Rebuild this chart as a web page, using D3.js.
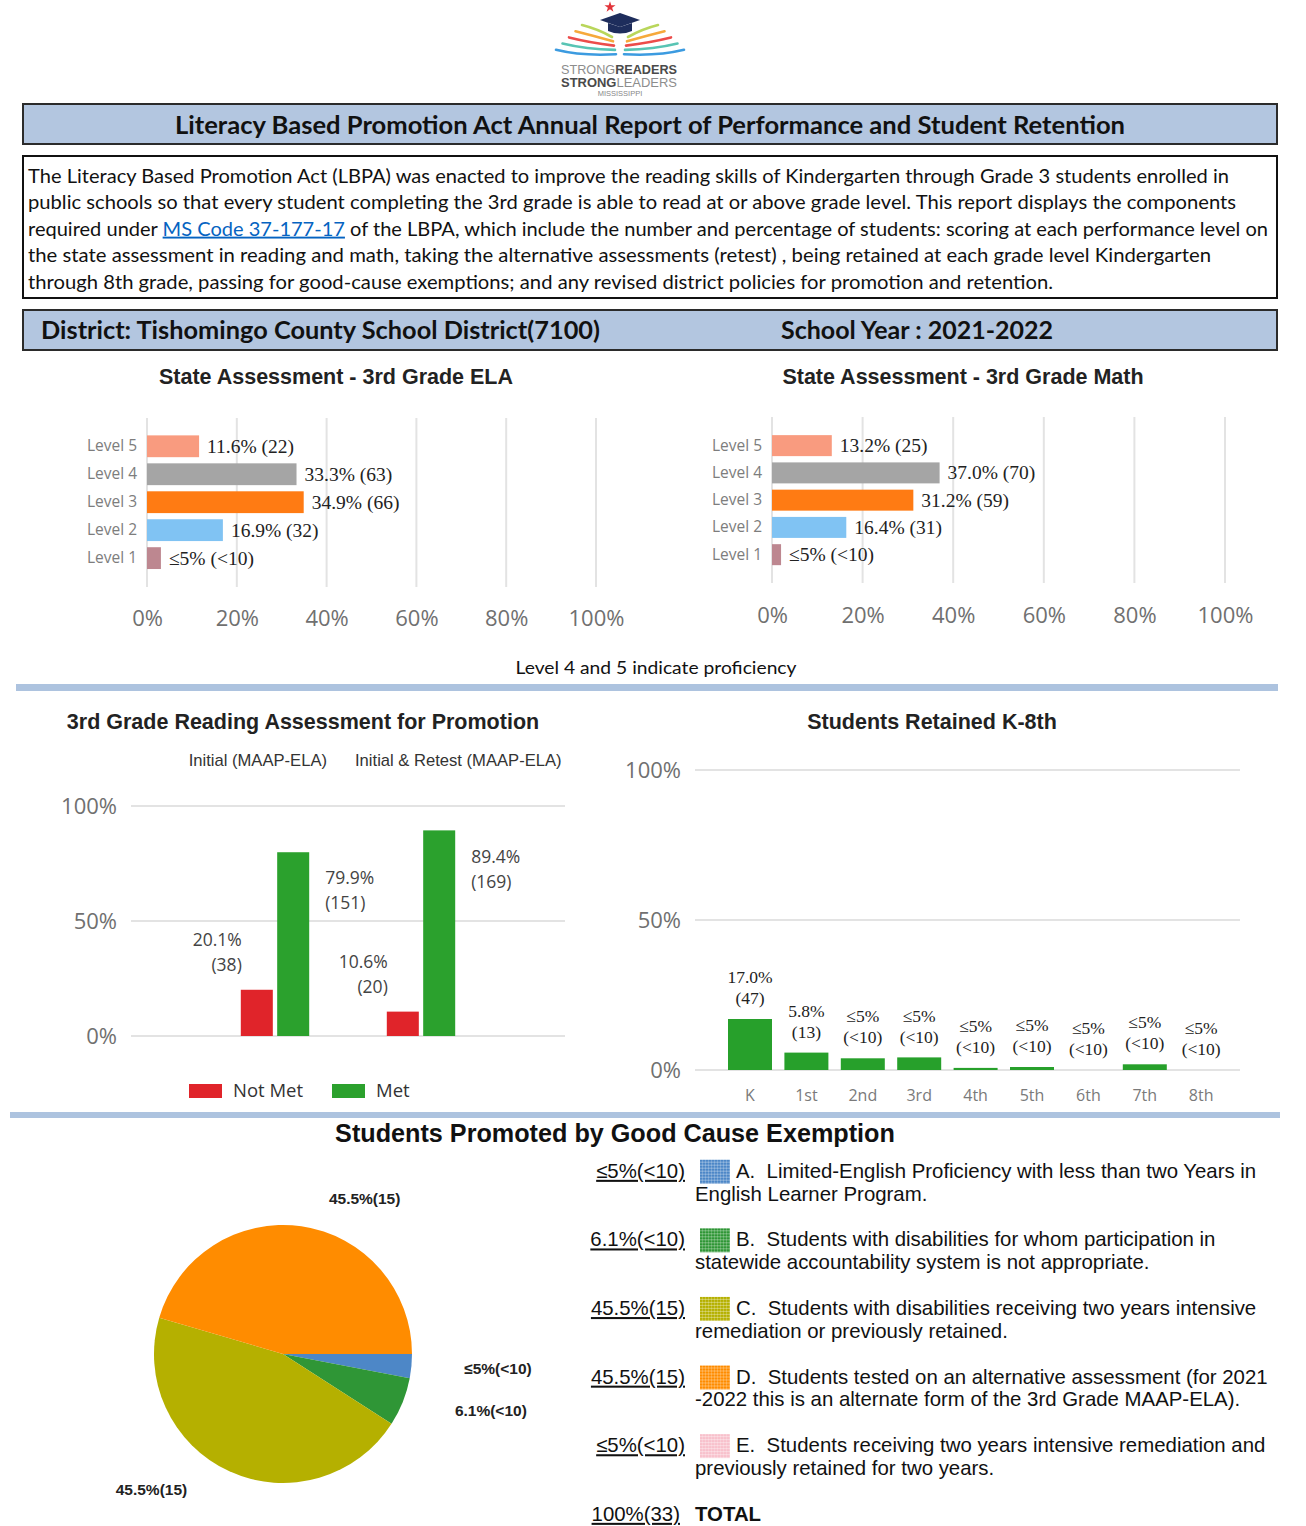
<!DOCTYPE html>
<html>
<head>
<meta charset="utf-8">
<script src="https://cdnjs.cloudflare.com/ajax/libs/d3/7.8.5/d3.min.js"></script>
<style>
  body { margin: 0; background: #fff; }
  svg { display: block; }
</style>
</head>
<body>
<svg id="page" width="1306" height="1526"></svg>
<script>
// ---------- data ----------
const levels = ['Level 5', 'Level 4', 'Level 3', 'Level 2', 'Level 1'];
const levelColors = ['#f99b7f', '#a5a5a5', '#ff7b13', '#80c3f3', '#bd8790'];
const elaPct = [11.6, 33.3, 34.9, 16.9, 3.1];
const elaText = ['11.6% (22)', '33.3% (63)', '34.9% (66)', '16.9% (32)', '≤5% (<10)'];
const mathPct = [13.2, 37.0, 31.2, 16.4, 2.0];
const mathText = ['13.2% (25)', '37.0% (70)', '31.2% (59)', '16.4% (31)', '≤5% (<10)'];
const pctTicks = [0, 20, 40, 60, 80, 100];

const promoGroups = ['Initial (MAAP-ELA)', 'Initial & Retest (MAAP-ELA)'];
const promoSeries = ['Not Met', 'Met'];
const promoColors = ['#e0242a', '#2ba12d'];
const notMetPct = [20.1, 10.6];
const notMetCount = ['(38)', '(20)'];
const metPct = [79.9, 89.4];
const metCount = ['(151)', '(169)'];
const halfTicks = [0, 50, 100];

const grades = ['K', '1st', '2nd', '3rd', '4th', '5th', '6th', '7th', '8th'];
const retainedPct = [17.0, 5.8, 3.9, 4.2, 0.7, 1.0, 0, 1.9, 0];
const retainedRate = ['17.0%', '5.8%', '≤5%', '≤5%', '≤5%', '≤5%', '≤5%', '≤5%', '≤5%'];
const retainedCount = ['(47)', '(13)', '(<10)', '(<10)', '(<10)', '(<10)', '(<10)', '(<10)', '(<10)'];

const exemptCodes = ['A', 'B', 'C', 'D', 'E'];
const exemptPct = [3.0, 6.1, 45.5, 45.5, 0];
const exemptLabel = ['≤5%(<10)', '6.1%(<10)', '45.5%(15)', '45.5%(15)', '≤5%(<10)'];
const exemptColors = ['#4d87c7', '#2f9636', '#b5b000', '#ff8c00', '#f8c1cc'];
const exemptDesc = [
  ['A.  Limited-English Proficiency with less than two Years in', 'English Learner Program.'],
  ['B.  Students with disabilities for whom participation in', 'statewide accountability system is not appropriate.'],
  ['C.  Students with disabilities receiving two years intensive', 'remediation or previously retained.'],
  ['D.  Students tested on an alternative assessment (for 2021', '-2022 this is an alternate form of the 3rd Grade MAAP-ELA).'],
  ['E.  Students receiving two years intensive remediation and', 'previously retained for two years.']
];
const exemptTotal = '100%(33)';

const introLines = [
  [{t: 'The Literacy Based Promotion Act (LBPA) was enacted to improve the reading skills of Kindergarten through Grade 3 students enrolled in'}],
  [{t: 'public schools so that every student completing the 3rd grade is able to read at or above grade level. This report displays the components'}],
  [{t: 'required under '}, {t: 'MS Code 37-177-17', link: true}, {t: ' of the LBPA, which include the number and percentage of students: scoring at each performance level on'}],
  [{t: 'the state assessment in reading and math, taking the alternative assessments (retest) , being retained at each grade level Kindergarten'}],
  [{t: 'through 8th grade, passing for good-cause exemptions; and any revised district policies for promotion and retention.'}]
];

// ---------- setup ----------
const svg = d3.select('#page');
const sans = "'Liberation Sans', Arial, sans-serif";
const segoe = "'Open Sans', 'Noto Sans', sans-serif";
const serif = "'Liberation Serif', 'Times New Roman', serif";
const calibri = "Lato, 'Open Sans', sans-serif";
const bannerFill = '#b3c6e0';

// ---------- logo ----------
const logo = svg.append('g');
const pageColors = ['#b9d65b', '#f6a93b', '#ec4c4a', '#58c4b4', '#3c9be0'];
[1, -1].forEach(side => {
  logo.append('g').selectAll('path')
    .data(pageColors)
    .join('path')
    .attr('d', (c, i) => {
      const sx = 620 - side * (38 + i * 6.5), sy = 25 + i * 6.2;
      const ex = 620 - side * (8 - i * 1), ey = 37 + i * 4.3;
      const cx = 620 - side * (22 + i * 4), cy = sy + 4 + i * 0.6;
      return `M${sx},${sy} Q${cx},${cy} ${ex},${ey}`;
    })
    .attr('fill', 'none')
    .attr('stroke', c => c)
    .attr('stroke-width', 2.6)
    .attr('stroke-linecap', 'round');
});
logo.append('path').attr('d', 'M600,20 L620,13 L640,20 L620,27 Z').attr('fill', '#1e2d5c');
logo.append('path').attr('d', 'M608,23 L608,31 Q620,36 632,31 L632,23 L620,27 Z').attr('fill', '#1e2d5c');
logo.append('path').attr('d', d3.symbol(d3.symbolStar).size(38)()).attr('transform', 'translate(610,7)').attr('fill', '#e2343a');
const l1 = logo.append('text').attr('x', 561).attr('y', 74).attr('font-family', sans).attr('font-size', 13.5)
  .attr('textLength', 116).attr('lengthAdjust', 'spacingAndGlyphs');
l1.append('tspan').attr('fill', '#8d8d8d').text('STRONG');
l1.append('tspan').attr('fill', '#4a4a4a').attr('font-weight', 700).text('READERS');
const l2 = logo.append('text').attr('x', 561).attr('y', 87).attr('font-family', sans).attr('font-size', 13.5)
  .attr('textLength', 116).attr('lengthAdjust', 'spacingAndGlyphs');
l2.append('tspan').attr('fill', '#4a4a4a').attr('font-weight', 700).text('STRONG');
l2.append('tspan').attr('fill', '#8d8d8d').text('LEADERS');
logo.append('text').attr('x', 620).attr('y', 96).attr('text-anchor', 'middle').attr('font-family', sans)
  .attr('font-size', 7.5).attr('fill', '#888').text('MISSISSIPPI');

// ---------- header boxes ----------
svg.append('rect').attr('x', 23).attr('y', 104).attr('width', 1254).attr('height', 40)
  .attr('fill', bannerFill).attr('stroke', '#2b2b2b').attr('stroke-width', 2);
svg.append('text').attr('x', 650).attr('y', 126).attr('dy', '0.35em').attr('text-anchor', 'middle')
  .attr('font-family', calibri).attr('font-weight', 700).attr('font-size', 24).attr('fill', '#111')
  .attr('textLength', 950).attr('lengthAdjust', 'spacingAndGlyphs')
  .text('Literacy Based Promotion Act Annual Report of Performance and Student Retention');

svg.append('rect').attr('x', 23).attr('y', 156).attr('width', 1254).attr('height', 142)
  .attr('fill', '#fff').attr('stroke', '#111').attr('stroke-width', 2);
const introWidths = [1201, 1208, 1240, 1183, 1025];
introLines.forEach((segs, i) => {
  const t = svg.append('text').attr('x', 28).attr('y', 176 + i * 26.5).attr('dy', '0.35em')
    .attr('font-family', calibri).attr('font-size', 19).attr('fill', '#111')
    .attr('textLength', introWidths[i]).attr('lengthAdjust', 'spacingAndGlyphs')
    .style('white-space', 'pre');
  segs.forEach(s => {
    const sp = t.append('tspan').text(s.t);
    if (s.link) sp.attr('fill', '#0563c1').attr('text-decoration', 'underline');
  });
});

svg.append('rect').attr('x', 23).attr('y', 310).attr('width', 1254).attr('height', 40)
  .attr('fill', bannerFill).attr('stroke', '#2b2b2b').attr('stroke-width', 2);
svg.append('text').attr('x', 41).attr('y', 331).attr('dy', '0.35em')
  .attr('font-family', calibri).attr('font-weight', 700).attr('font-size', 24).attr('fill', '#111')
  .attr('textLength', 559).attr('lengthAdjust', 'spacingAndGlyphs')
  .text('District: Tishomingo County School District(7100)');
svg.append('text').attr('x', 781).attr('y', 331).attr('dy', '0.35em')
  .attr('font-family', calibri).attr('font-weight', 700).attr('font-size', 24).attr('fill', '#111')
  .attr('textLength', 272).attr('lengthAdjust', 'spacingAndGlyphs')
  .text('School Year : 2021-2022');

// ---------- level charts ----------
function levelChart(cfg) {
  const g = svg.append('g');
  const x = d3.scaleLinear().domain([0, 100]).range([cfg.x0, cfg.x1]);
  const y = d3.scaleBand().domain(levels).range([cfg.yTop, cfg.yBot])
    .paddingInner(cfg.pad).paddingOuter(cfg.pad / 2);

  g.append('text').attr('x', cfg.titleX).attr('y', 376).attr('dy', '0.35em').attr('text-anchor', 'middle')
    .attr('font-family', sans).attr('font-weight', 700).attr('font-size', 21.5).attr('fill', '#222')
    .text(cfg.title);

  g.append('g').selectAll('line')
    .data(pctTicks)
    .join('line')
    .attr('x1', d => x(d)).attr('x2', d => x(d))
    .attr('y1', cfg.gTop).attr('y2', cfg.gBot)
    .attr('stroke', '#e3e3e3').attr('stroke-width', 2);

  const ax = g.append('g').attr('transform', `translate(0,${cfg.tickY})`)
    .call(d3.axisBottom(x).tickValues(pctTicks).tickFormat(d => d + '%').tickSize(0).tickPadding(0));
  ax.select('.domain').remove();
  ax.selectAll('text').attr('y', 0).attr('dy', '0.35em')
    .attr('font-family', segoe).attr('font-size', 22).attr('fill', '#707070');

  const ay = g.append('g').attr('transform', `translate(${cfg.x0 - 10},0)`)
    .call(d3.axisLeft(y).tickSize(0).tickPadding(0));
  ay.select('.domain').remove();
  ay.selectAll('text').attr('font-family', segoe).attr('font-size', 15.5).attr('fill', '#7d7d7d');

  g.append('g').selectAll('rect')
    .data(cfg.values)
    .join('rect')
    .attr('x', x(0))
    .attr('y', (d, i) => y(levels[i]))
    .attr('width', d => x(d) - x(0))
    .attr('height', y.bandwidth())
    .attr('fill', (d, i) => levelColors[i]);

  g.append('g').selectAll('text')
    .data(cfg.values)
    .join('text')
    .attr('x', d => x(d) + 8)
    .attr('y', (d, i) => y(levels[i]) + y.bandwidth() / 2)
    .attr('dy', '0.33em')
    .attr('font-family', serif).attr('font-size', 19.5).attr('fill', '#222')
    .text((d, i) => cfg.labels[i]);
}

levelChart({title: 'State Assessment - 3rd Grade ELA', titleX: 336, x0: 147, x1: 596,
  yTop: 432.3, yBot: 572.1, pad: 0.22, gTop: 418, gBot: 587, tickY: 618,
  values: elaPct, labels: elaText});
levelChart({title: 'State Assessment - 3rd Grade Math', titleX: 963, x0: 772, x1: 1225,
  yTop: 432, yBot: 568.3, pad: 0.23, gTop: 417, gBot: 583, tickY: 615,
  values: mathPct, labels: mathText});

svg.append('text').attr('x', 656).attr('y', 668).attr('dy', '0.35em').attr('text-anchor', 'middle')
  .attr('font-family', calibri).attr('font-size', 18).attr('fill', '#111')
  .attr('textLength', 281).attr('lengthAdjust', 'spacingAndGlyphs')
  .text('Level 4 and 5 indicate proficiency');

svg.append('rect').attr('x', 16).attr('y', 684).attr('width', 1262).attr('height', 7).attr('fill', '#adc3df');

// ---------- promotion chart ----------
const promo = svg.append('g');
const py = d3.scaleLinear().domain([0, 100]).range([1036, 806]);
const px = d3.scaleBand().domain(promoGroups).range([202, 494]);
const ps = d3.scaleBand().domain(promoSeries).range([-34.2, 34.2]).paddingInner(0.12);

promo.append('text').attr('x', 303).attr('y', 721).attr('dy', '0.35em').attr('text-anchor', 'middle')
  .attr('font-family', sans).attr('font-weight', 700).attr('font-size', 21.5).attr('fill', '#222')
  .text('3rd Grade Reading Assessment for Promotion');
promo.append('g').selectAll('text')
  .data(promoGroups)
  .join('text')
  .attr('x', (d, i) => i === 0 ? 327 : 355)
  .attr('y', 760).attr('dy', '0.35em')
  .attr('text-anchor', (d, i) => i === 0 ? 'end' : 'start')
  .attr('font-family', sans).attr('font-size', 16.6).attr('fill', '#333')
  .text(d => d);

promo.append('g').selectAll('line')
  .data(halfTicks)
  .join('line')
  .attr('x1', 131).attr('x2', 565)
  .attr('y1', d => py(d)).attr('y2', d => py(d))
  .attr('stroke', '#e3e3e3').attr('stroke-width', 2);
const pay = promo.append('g').attr('transform', 'translate(117,0)')
  .call(d3.axisLeft(py).tickValues(halfTicks).tickFormat(d => d + '%').tickSize(0).tickPadding(0));
pay.select('.domain').remove();
pay.selectAll('text').attr('font-family', segoe).attr('font-size', 22).attr('fill', '#707070');

const promoRows = promoGroups.map((grp, i) => [
  {grp, s: 'Not Met', v: notMetPct[i], lines: [notMetPct[i].toFixed(1) + '%', notMetCount[i]]},
  {grp, s: 'Met', v: metPct[i], lines: [metPct[i].toFixed(1) + '%', metCount[i]]}
]).flat();
const barX = d => px(d.grp) + px.bandwidth() / 2 + ps(d.s);

promo.append('g').selectAll('rect')
  .data(promoRows)
  .join('rect')
  .attr('x', barX)
  .attr('y', d => py(d.v))
  .attr('width', ps.bandwidth())
  .attr('height', d => py(0) - py(d.v))
  .attr('fill', d => promoColors[promoSeries.indexOf(d.s)]);

promo.append('g').selectAll('text')
  .data(promoRows)
  .join('text')
  .attr('text-anchor', d => d.s === 'Met' ? 'start' : 'end')
  .attr('x', d => d.s === 'Met' ? barX(d) + ps.bandwidth() + 16 : barX(d) + 1)
  .attr('y', d => d.s === 'Met' ? py(d.v) + 26 : py(d.v) - 50)
  .attr('font-family', segoe).attr('font-size', 17.5).attr('fill', '#444')
  .each(function (d) {
    d3.select(this).selectAll('tspan')
      .data(d.lines)
      .join('tspan')
      .attr('x', d3.select(this).attr('x'))
      .attr('dy', (l, j) => j === 0 ? '0.35em' : 25)
      .text(l => l);
  });

const pLeg = promo.append('g').selectAll('g')
  .data(promoSeries)
  .join('g')
  .attr('transform', (d, i) => `translate(${189 + i * 143},1091)`);
pLeg.append('rect').attr('x', 0).attr('y', -7).attr('width', 33).attr('height', 14)
  .attr('fill', (d, i) => promoColors[i]);
pLeg.append('text').attr('x', 44).attr('dy', '0.35em')
  .attr('font-family', segoe).attr('font-size', 18.5).attr('fill', '#333').text(d => d);

// ---------- retained chart ----------
const ret = svg.append('g');
const ry = d3.scaleLinear().domain([0, 100]).range([1070, 770]);
const rx = d3.scaleBand().domain(grades).range([721.8, 1229.4]).paddingInner(0.22).paddingOuter(0.11);

ret.append('text').attr('x', 932).attr('y', 721).attr('dy', '0.35em').attr('text-anchor', 'middle')
  .attr('font-family', sans).attr('font-weight', 700).attr('font-size', 21.5).attr('fill', '#222')
  .text('Students Retained K-8th');
ret.append('g').selectAll('line')
  .data(halfTicks)
  .join('line')
  .attr('x1', 695).attr('x2', 1240)
  .attr('y1', d => ry(d)).attr('y2', d => ry(d))
  .attr('stroke', '#e3e3e3').attr('stroke-width', 2);
const ray = ret.append('g').attr('transform', 'translate(681,0)')
  .call(d3.axisLeft(ry).tickValues(halfTicks).tickFormat(d => d + '%').tickSize(0).tickPadding(0));
ray.select('.domain').remove();
ray.selectAll('text').attr('font-family', segoe).attr('font-size', 22).attr('fill', '#707070');

const rax = ret.append('g').attr('transform', 'translate(0,1095)')
  .call(d3.axisBottom(rx).tickSize(0).tickPadding(0));
rax.select('.domain').remove();
rax.selectAll('text').attr('y', 0).attr('dy', '0.35em')
  .attr('font-family', segoe).attr('font-size', 16).attr('fill', '#7a7a7a');

ret.append('g').selectAll('rect')
  .data(retainedPct)
  .join('rect')
  .attr('x', (d, i) => rx(grades[i]))
  .attr('y', d => ry(d))
  .attr('width', rx.bandwidth())
  .attr('height', d => ry(0) - ry(d))
  .attr('fill', '#27a02b');

ret.append('g').selectAll('text')
  .data(retainedPct)
  .join('text')
  .attr('x', (d, i) => rx(grades[i]) + rx.bandwidth() / 2)
  .attr('y', d => ry(d) - 42)
  .attr('text-anchor', 'middle')
  .attr('font-family', serif).attr('font-size', 17.5).attr('fill', '#222')
  .each(function (d, i) {
    const cx = d3.select(this).attr('x');
    d3.select(this).selectAll('tspan')
      .data([retainedRate[i], retainedCount[i]])
      .join('tspan')
      .attr('x', cx)
      .attr('dy', (l, j) => j === 0 ? '0.35em' : 21)
      .text(l => l);
  });

svg.append('rect').attr('x', 10).attr('y', 1112).attr('width', 1270).attr('height', 6).attr('fill', '#adc3df');

// ---------- good cause exemption ----------
svg.append('text').attr('x', 615).attr('y', 1133).attr('dy', '0.35em').attr('text-anchor', 'middle')
  .attr('font-family', sans).attr('font-weight', 700).attr('font-size', 25.2).attr('fill', '#111')
  .text('Students Promoted by Good Cause Exemption');

const pieR = 129;
const pieG = svg.append('g').attr('transform', 'translate(283,1354)');
const pie = d3.pie().sort(null).value(d => d)
  .startAngle(Math.PI / 2).endAngle(Math.PI / 2 + 2 * Math.PI);
const slices = pie(exemptPct);
const arc = d3.arc().innerRadius(0).outerRadius(pieR);
pieG.selectAll('path')
  .data(slices)
  .join('path')
  .attr('d', arc)
  .attr('fill', (d, i) => exemptColors[i]);

// outside labels: big slices turned a bit clockwise, small ones squeezed toward 3 o'clock
const labelPos = d => {
  const mid = (d.startAngle + d.endAngle) / 2;
  let a, r;
  if (d.data > 20) {
    a = mid + 19.5 * Math.PI / 180;
    r = pieR * (1.42 - 0.065 * Math.cos(a));
  } else {
    a = Math.PI / 2 + (mid - Math.PI / 2) * 0.7;
    r = pieR * 1.67;
  }
  return [Math.sin(a) * r, -Math.cos(a) * r];
};
pieG.selectAll('text')
  .data(slices.filter(d => d.data > 0))
  .join('text')
  .attr('x', d => labelPos(d)[0])
  .attr('y', d => labelPos(d)[1])
  .attr('dy', '0.35em')
  .attr('text-anchor', 'middle')
  .attr('font-family', sans).attr('font-weight', 700).attr('font-size', 15.5).attr('fill', '#222')
  .text(d => exemptLabel[d.index]);

// legend swatch patterns
const defs = svg.append('defs');
exemptColors.forEach((c, i) => {
  const p = defs.append('pattern').attr('id', 'sw' + i).attr('width', 3).attr('height', 3)
    .attr('patternUnits', 'userSpaceOnUse');
  p.append('rect').attr('width', 3).attr('height', 3).attr('fill', c);
  p.append('rect').attr('width', 3).attr('height', 1).attr('fill', '#fff').attr('opacity', 0.35);
  p.append('rect').attr('width', 1).attr('height', 3).attr('fill', '#fff').attr('opacity', 0.2);
});

const legFont = 20.4;
const ly = d3.scaleLinear().domain([0, 5]).range([1170.7, 1513.7]);
const legRows = svg.append('g').selectAll('g')
  .data(exemptCodes)
  .join('g')
  .attr('transform', (d, i) => `translate(0,${ly(i)})`);
legRows.append('text').attr('x', 685).attr('dy', '0.35em').attr('text-anchor', 'end')
  .attr('font-family', sans).attr('font-size', legFont).attr('fill', '#111')
  .attr('text-decoration', 'underline')
  .text((d, i) => exemptLabel[i]);
legRows.append('rect').attr('x', 700).attr('y', -11).attr('width', 30).attr('height', 24)
  .attr('fill', (d, i) => `url(#sw${i})`);
legRows.append('text').attr('x', 736).attr('dy', '0.35em')
  .attr('font-family', sans).attr('font-size', legFont).attr('fill', '#111').style('white-space', 'pre')
  .text((d, i) => exemptDesc[i][0]);
legRows.append('text').attr('x', 695).attr('y', 22.7).attr('dy', '0.35em')
  .attr('font-family', sans).attr('font-size', legFont).attr('fill', '#111')
  .text((d, i) => exemptDesc[i][1]);

const totalRow = svg.append('g').attr('transform', `translate(0,${ly(5)})`);
totalRow.append('text').attr('x', 680).attr('dy', '0.35em').attr('text-anchor', 'end')
  .attr('font-family', sans).attr('font-size', legFont).attr('fill', '#111')
  .attr('text-decoration', 'underline').text(exemptTotal);
totalRow.append('text').attr('x', 695).attr('dy', '0.35em')
  .attr('font-family', sans).attr('font-weight', 700).attr('font-size', legFont).attr('fill', '#111')
  .text('TOTAL');
</script>
</body>
</html>
